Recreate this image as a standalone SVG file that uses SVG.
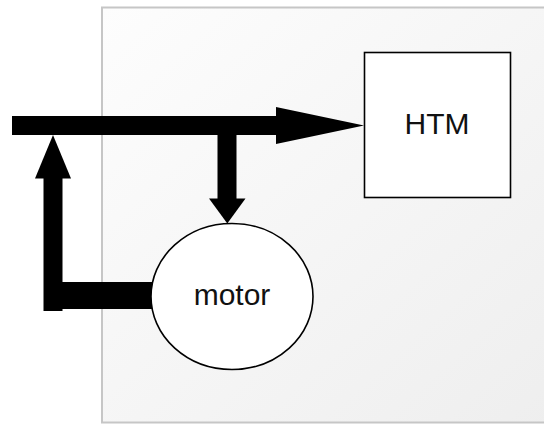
<svg xmlns="http://www.w3.org/2000/svg" width="544" height="425" viewBox="0 0 544 425">
  <defs>
    <linearGradient id="panelFill" x1="0" y1="0" x2="1" y2="1">
      <stop offset="0" stop-color="#fdfdfd"/>
      <stop offset="1" stop-color="#eeeeee"/>
    </linearGradient>
    <style>
      .node { fill: #ffffff; stroke: #000000; stroke-width: 1.6; }
      .label { font-family: "Liberation Sans", Arial, sans-serif; font-size: 30px; fill: #111111; text-anchor: middle; }
      .wire { fill: #000000; stroke: none; }
    </style>
  </defs>

  <!-- background panel -->
  <rect x="102" y="7.5" width="460" height="415" fill="url(#panelFill)" stroke="#c6c6c6" stroke-width="2"/>

  <g id="connectors">
    <!-- main bus into HTM -->
    <rect class="wire" x="12" y="116" width="266" height="19"/>
    <polygon class="wire" points="276,107 364,125.5 276,144"/>
    <!-- branch down to motor -->
    <rect class="wire" x="217.5" y="134" width="19" height="66"/>
    <polygon class="wire" points="209,198.5 245.5,198.5 227.3,223.5"/>
    <!-- feedback from motor back up to bus -->
    <rect class="wire" x="62" y="282" width="92" height="27"/>
    <rect class="wire" x="43.5" y="177" width="19" height="134"/>
    <polygon class="wire" points="35,178.5 71,178.5 53,135"/>
  </g>

  <g id="htm">
    <rect class="node" x="364.5" y="52.5" width="146" height="145"/>
    <text class="label" x="437" y="133.5">HTM</text>
  </g>

  <g id="motor">
    <ellipse class="node" cx="232" cy="296.5" rx="81" ry="73"/>
    <text class="label" x="232" y="304.5">motor</text>
  </g>
</svg>
